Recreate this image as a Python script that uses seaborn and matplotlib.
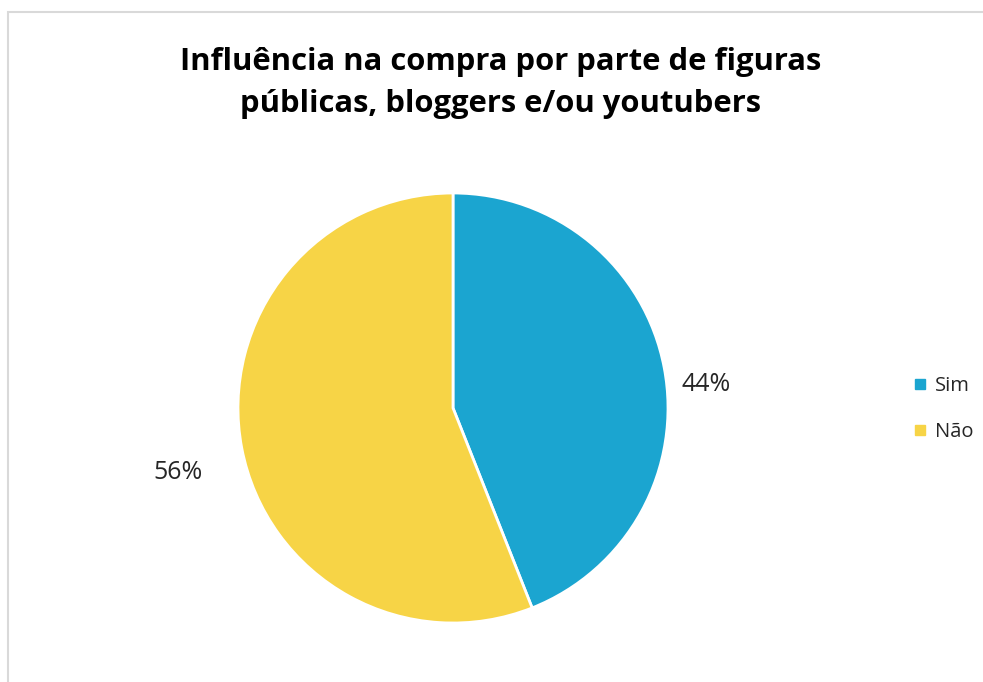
import matplotlib
matplotlib.use("Agg")
import matplotlib.pyplot as plt
from matplotlib.lines import Line2D
from matplotlib.patches import Rectangle
import seaborn as sns

# Survey answers and their shares (percent)
categories = ["Sim", "Não"]
shares = [44, 56]
colors = ["#1BA5D0", "#F7D446"]
title = "Influência na compra por parte de figuras\npúblicas, bloggers e/ou youtubers"

sns.set_theme(style="white")
plt.rcParams["font.family"] = ["Open Sans", "DejaVu Sans"]

W, H = 983, 682
fig = plt.figure(figsize=(W / 100, H / 100), dpi=100)
fig.patch.set_facecolor("white")

# Chart-area frame (only top and left edges fall inside the canvas)
fig.add_artist(Rectangle((8 / W, -0.1), 1.2, 1.1 - 12 / H, transform=fig.transFigure,
                         fill=False, edgecolor="#D9D9D9", linewidth=1.5))

# Pie axes: centre (453, 408) px, radius 215 px
cx, cy, r = 453, 408, 215
ax = fig.add_axes([(cx - r) / W, (H - cy - r) / H, 2 * r / W, 2 * r / H])
wedges, texts, autotexts = ax.pie(
    shares, colors=colors, startangle=90, counterclock=False,
    autopct=lambda p: f"{p:.0f}%", pctdistance=1.2,
    wedgeprops=dict(edgecolor="white", linewidth=2),
    textprops=dict(fontsize=18, color="#262626"),
)
ax.set_xlim(-1, 1)
ax.set_ylim(-1, 1)
ax.set_aspect("auto")
ax.axis("off")

label_pos = [(1.177, 0.11), (-1.279, -0.30)]
for t, pos in zip(autotexts, label_pos):
    t.set_position(pos)
    t.set_ha("center")
    t.set_va("center")

fig.text(501 / W, 1 - 83 / H, title, ha="center", va="center",
         fontsize=22.3, fontweight="bold", color="black", linespacing=1.5)

handles = [Line2D([], [], marker="s", linestyle="none", markersize=7,
                  markerfacecolor=c, markeredgecolor=c) for c in colors]
fig.legend(handles, categories, loc="center left",
           bbox_to_anchor=(895 / W, 1 - 409 / H), frameon=False,
           fontsize=14.5, handlelength=0.7, handletextpad=0.4,
           labelspacing=1.25, labelcolor="#262626")

fig.savefig("out.png", dpi=100, facecolor="white")
